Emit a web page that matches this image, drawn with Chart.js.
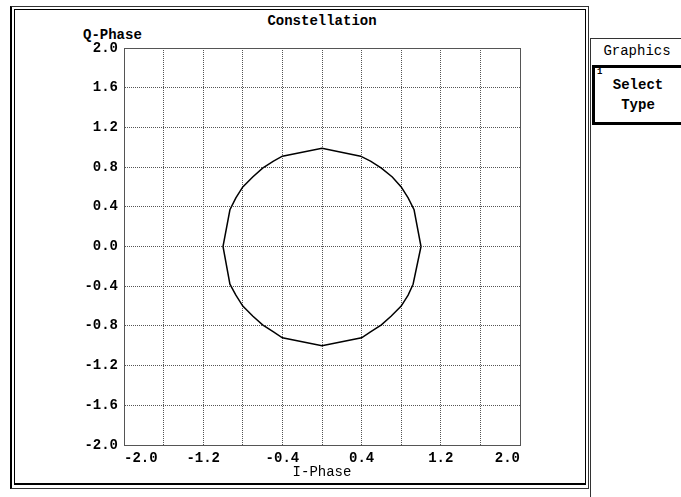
<!DOCTYPE html>
<html lang="en">
<head>
    <meta charset="UTF-8">
    <title>Constellation</title>
    <script src="https://cdn.jsdelivr.net/npm/chart.js"></script>
    <style>
        body {
            margin: 0;
            padding: 0;
            width: 681px;
            height: 497px;
            background: #fff;
            overflow: hidden;
            position: relative;
            font-family: 'Liberation Mono', 'DejaVu Sans Mono', monospace;
            color: #000;
        }
        .frame-outer {
            position: absolute;
            left: 10px; top: 6px;
            width: 579px; height: 483px;
            box-sizing: border-box;
            border: 1px solid #333;
            border-left: 2px solid #000;
        }
        .frame-inner {
            position: absolute;
            left: 14px; top: 9px;
            width: 572px; height: 476px;
            box-sizing: border-box;
            border: 1px solid #000;
            border-bottom: 2px solid #000;
        }
        #chartBox {
            position: absolute;
            left: 0; top: 0;
            width: 681px; height: 497px;
        }
        .title {
            position: absolute;
            left: 222px; top: 12px;
            width: 200px;
            text-align: center;
            font-size: 14px;
            font-weight: bold;
            line-height: 18px;
        }
        .qlabel {
            position: absolute;
            left: 83px; top: 27px;
            font-size: 14px;
            font-weight: bold;
            line-height: 16px;
        }
        .panel {
            position: absolute;
            left: 590px; top: 38px;
            width: 100px; height: 459px;
            border-left: 1px solid #333;
            border-top: 1px solid #333;
        }
        .panel-title {
            position: absolute;
            left: 0; top: 4px;
            width: 92px;
            text-align: center;
            font-size: 14px;
            line-height: 16px;
        }
        .softkey {
            position: absolute;
            left: 1px; top: 26px;
            width: 110px; height: 60px;
            box-sizing: border-box;
            border: 3px solid #000;
            background: #fff;
        }
        .softkey .num {
            position: absolute;
            left: 2px; top: -1px;
            font-size: 9px;
            font-weight: bold;
        }
        .softkey .line {
            position: absolute;
            left: 0; width: 86px;
            text-align: center;
            font-size: 14px;
            font-weight: bold;
            line-height: 16px;
        }
    </style>
</head>
<body>
    <div class="frame-outer"></div>
    <div class="frame-inner"></div>
    <div class="title">Constellation</div>
    <div class="qlabel">Q-Phase</div>
    <div class="panel">
        <div class="panel-title">Graphics</div>
        <div class="softkey">
            <div class="num">1</div>
            <div class="line" style="top: 9px;">Select</div>
            <div class="line" style="top: 29px;">Type</div>
        </div>
    </div>
    <div id="chartBox"><canvas id="constChart" width="681" height="497"></canvas></div>

    <script>
        // axis ticks
        const xTickValues = [-2.0, -1.6, -1.2, -0.8, -0.4, 0.0, 0.4, 0.8, 1.2, 1.6, 2.0];
        const xTickLabels = ['-2.0', '', '-1.2', '', '-0.4', '', '0.4', '', '1.2', '', '2.0'];
        const yTickValues = [-2.0, -1.6, -1.2, -0.8, -0.4, 0.0, 0.4, 0.8, 1.2, 1.6, 2.0];
        const yTickLabels = ['-2.0', '-1.6', '-1.2', '-0.8', '-0.4', '0.0', '0.4', '0.8', '1.2', '1.6', '2.0'];

        // traced I/Q path
        const iPhase = [1.00, 0.93, 0.87, 0.80, 0.71, 0.60, 0.49, 0.39, 0.00,
                        -0.40, -0.49, -0.60, -0.70, -0.80, -0.87, -0.93, -1.00,
                        -0.93, -0.87, -0.80, -0.70, -0.60, -0.49, -0.40, 0.00,
                        0.40, 0.49, 0.60, 0.70, 0.80, 0.87, 0.92, 1.00];
        const qPhase = [0.00, 0.37, 0.49, 0.60, 0.70, 0.79, 0.86, 0.91, 0.99,
                        0.91, 0.86, 0.79, 0.70, 0.60, 0.49, 0.37, 0.00,
                        -0.38, -0.49, -0.60, -0.70, -0.79, -0.86, -0.92, -1.00,
                        -0.92, -0.86, -0.79, -0.70, -0.60, -0.49, -0.38, 0.00];

        const points = iPhase.map((v, i) => ({ x: v, y: qPhase[i] }));

        const tickFont = { family: "'Liberation Mono', monospace", size: 14, weight: 'bold' };

        // solid box round the plot area
        const plotFrame = {
            id: 'plotFrame',
            afterDraw(chart) {
                const a = chart.chartArea;
                const ctx = chart.ctx;
                ctx.save();
                ctx.strokeStyle = '#555';
                ctx.lineWidth = 1;
                ctx.strokeRect(Math.round(a.left) + 0.5, Math.round(a.top) + 0.5,
                               Math.round(a.right - a.left), Math.round(a.bottom - a.top));
                ctx.restore();
            }
        };

        const ctx = document.getElementById('constChart').getContext('2d');
        new Chart(ctx, {
            type: 'scatter',
            data: {
                datasets: [{
                    data: points,
                    showLine: true,
                    borderColor: '#000',
                    borderWidth: 1.5,
                    pointRadius: 0,
                    tension: 0
                }]
            },
            options: {
                responsive: false,
                animation: false,
                layout: { padding: { left: 0, top: 48, right: 161, bottom: 0 } },
                plugins: {
                    legend: { display: false },
                    tooltip: { enabled: false }
                },
                scales: {
                    x: {
                        type: 'linear',
                        min: -2,
                        max: 2,
                        afterBuildTicks: (scale) => {
                            scale.ticks = xTickValues.map(v => ({ value: v }));
                        },
                        afterFit: (scale) => { scale.height = 52; },
                        grid: { color: '#555', lineWidth: 1, drawTicks: false },
                        border: { display: true, color: '#555', dash: [1, 1] },
                        ticks: {
                            color: '#000',
                            font: tickFont,
                            padding: 5,
                            align: 'inner',
                            maxRotation: 0,
                            autoSkip: false,
                            callback: (value, index) => xTickLabels[index]
                        },
                        title: {
                            display: true,
                            text: 'I-Phase',
                            color: '#000',
                            font: { family: "'Liberation Mono', monospace", size: 14 },
                            padding: { top: 0, bottom: 16 }
                        }
                    },
                    y: {
                        type: 'linear',
                        min: -2,
                        max: 2,
                        afterBuildTicks: (scale) => {
                            scale.ticks = yTickValues.map(v => ({ value: v }));
                        },
                        afterFit: (scale) => { scale.width = 124; },
                        grid: { color: '#555', lineWidth: 1, drawTicks: false },
                        border: { display: true, color: '#555', dash: [1, 1] },
                        ticks: {
                            color: '#000',
                            font: tickFont,
                            padding: 6,
                            autoSkip: false,
                            callback: (value, index) => yTickLabels[index]
                        }
                    }
                }
            },
            plugins: [plotFrame]
        });
    </script>
</body>
</html>
